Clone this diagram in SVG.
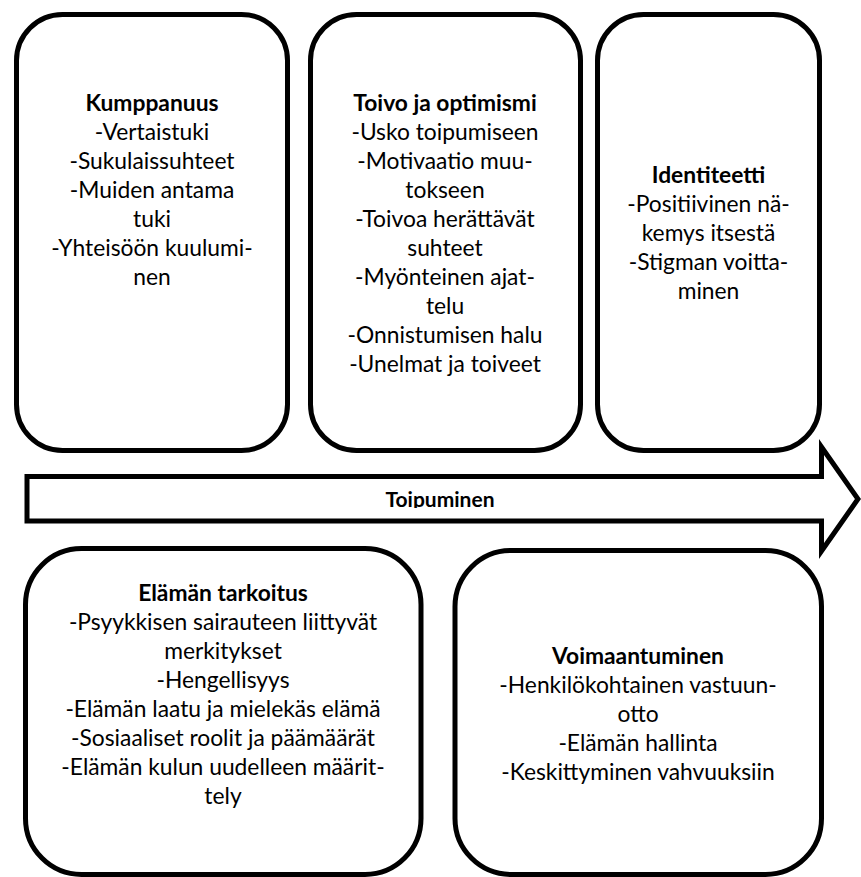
<svg xmlns="http://www.w3.org/2000/svg" width="861" height="877" viewBox="0 0 861 877">
<style>
.box{fill:#fff;stroke:#000;stroke-width:5}
.t{font-family:Lato,"Liberation Sans",sans-serif;font-size:22.8px;fill:#000;text-anchor:middle}
.b{font-weight:bold}
.arrow{fill:#fff;stroke:#000;stroke-width:5;stroke-linejoin:miter}
</style>
<defs>
<clipPath id="clipLabel"><rect x="300" y="480" width="300" height="28"/></clipPath>
</defs>
<rect width="861" height="877" fill="#fff"/>
<g id="kumppanuus">
<rect class="box" x="16.5" y="14.5" width="271" height="436" rx="46" ry="46"/>
<text class="t"><tspan class="b" x="152" y="111">Kumppanuus</tspan><tspan x="152" y="140">-Vertaistuki</tspan><tspan x="152" y="169">-Sukulaissuhteet</tspan><tspan x="152" y="198">-Muiden antama</tspan><tspan x="152" y="227">tuki</tspan><tspan x="152" y="256">-Yhteisöön kuulumi-</tspan><tspan x="152" y="285">nen</tspan></text>
</g>
<g id="toivo">
<rect class="box" x="310.5" y="14.5" width="270" height="436" rx="46" ry="46"/>
<text class="t"><tspan class="b" x="445" y="111">Toivo ja optimismi</tspan><tspan x="445" y="140">-Usko toipumiseen</tspan><tspan x="445" y="169">-Motivaatio muu-</tspan><tspan x="445" y="198">tokseen</tspan><tspan x="445" y="227">-Toivoa herättävät</tspan><tspan x="445" y="256">suhteet</tspan><tspan x="445" y="285">-Myönteinen ajat-</tspan><tspan x="445" y="314">telu</tspan><tspan x="445" y="343">-Onnistumisen halu</tspan><tspan x="445" y="372">-Unelmat ja toiveet</tspan></text>
</g>
<g id="identiteetti">
<rect class="box" x="597.5" y="14.5" width="222" height="436" rx="46" ry="46"/>
<text class="t"><tspan class="b" x="708.5" y="183">Identiteetti</tspan><tspan x="708.5" y="212">-Positiivinen nä-</tspan><tspan x="708.5" y="241">kemys itsestä</tspan><tspan x="708.5" y="270">-Stigman voitta-</tspan><tspan x="708.5" y="299">minen</tspan></text>
</g>
<g id="connectors">
<g id="toipuminen">
<polygon class="arrow" points="27,476.5 821.5,476.5 821.5,447 858,499 821.5,551 821.5,521 27,521"/>
<text class="t b" x="440" y="507" clip-path="url(#clipLabel)" style="font-size:21px">Toipuminen</text>
</g>
</g>
<g id="elaman-tarkoitus">
<rect class="box" x="25.5" y="548.5" width="395.5" height="326" rx="56" ry="56"/>
<text class="t"><tspan class="b" x="223" y="601">Elämän tarkoitus</tspan><tspan x="223" y="630">-Psyykkisen sairauteen liittyvät</tspan><tspan x="223" y="659">merkitykset</tspan><tspan x="223" y="688">-Hengellisyys</tspan><tspan x="223" y="717">-Elämän laatu ja mielekäs elämä</tspan><tspan x="223" y="746">-Sosiaaliset roolit ja päämäärät</tspan><tspan x="223" y="775">-Elämän kulun uudelleen määrit-</tspan><tspan x="223" y="804">tely</tspan></text>
</g>
<g id="voimaantuminen">
<rect class="box" x="455" y="550.5" width="366.5" height="324" rx="56" ry="56"/>
<text class="t"><tspan class="b" x="638" y="664">Voimaantuminen</tspan><tspan x="638" y="693">-Henkilökohtainen vastuun-</tspan><tspan x="638" y="722">otto</tspan><tspan x="638" y="751">-Elämän hallinta</tspan><tspan x="638" y="780">-Keskittyminen vahvuuksiin</tspan></text>
</g>
</svg>
